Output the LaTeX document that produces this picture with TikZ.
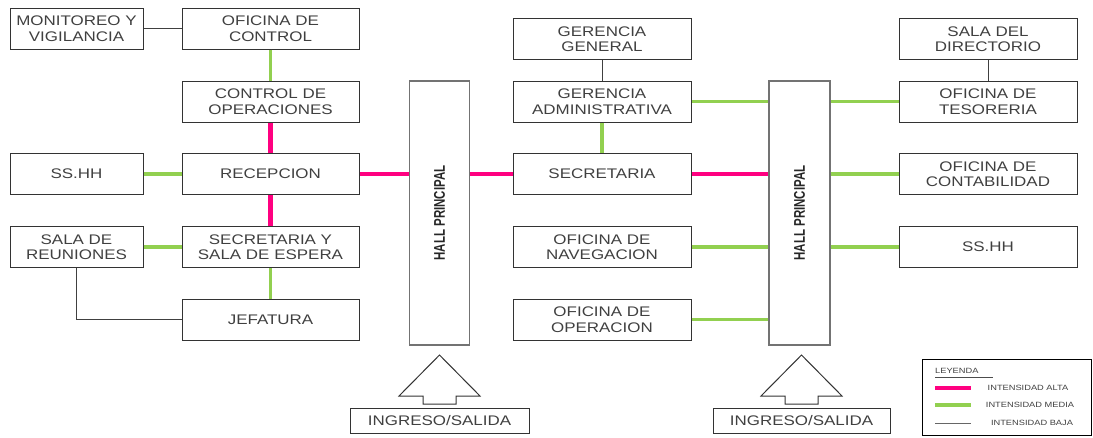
\documentclass[tikz,border=0pt]{standalone}
\usepackage{fontspec}
\setmainfont{Liberation Sans}[FakeStretch=1.22]
\newfontfamily\hallfont{Liberation Sans}[FakeStretch=0.74,BoldFont={Liberation Sans Bold}]
\definecolor{altac}{HTML}{FF0080}
\definecolor{mediac}{HTML}{92D050}
\definecolor{bajac}{HTML}{404040}
\definecolor{txt}{HTML}{404040}
\begin{document}
\begin{tikzpicture}[x=1pt,y=-1pt,
  room/.style={draw=black!80,line width=1pt,fill=white,minimum height=41pt,inner sep=0pt,align=center,
    text=txt,font=\fontsize{13.9}{15.5}\selectfont},
  narrowroom/.style={room,minimum width=133pt},
  wideroom/.style={room,minimum width=178pt},
  hall/.style={draw=black!55,line width=1.4pt,fill=white,minimum width=60pt,minimum height=264pt,inner sep=0pt},
  alta/.style={altac,line width=4.5pt},
  media/.style={mediac,line width=3.2pt},
  baja/.style={bajac,line width=0.9pt},
  gate/.style={draw=black!80,line width=1pt,fill=white},
  legtext/.style={text=txt,inner sep=0pt,font=\fontsize{7.6}{9}\selectfont}]
\useasboundingbox (0,0) rectangle (1093,437);

% left columns
\node[narrowroom] (mon) at (76.5,28.5) {MONITOREO Y\\VIGILANCIA};
\node[narrowroom] (ssa) at (76.5,174) {SS.HH};
\node[narrowroom] (reu) at (76.5,247) {SALA DE\\REUNIONES};
\node[wideroom,minimum width=177pt] (ofc) at (270.5,28.5) {OFICINA DE\\CONTROL};
\node[wideroom,minimum width=177pt] (cop) at (270.5,101.5) {CONTROL DE\\OPERACIONES};
\node[wideroom,minimum width=177pt] (rec) at (270.5,174) {RECEPCION};
\node[wideroom,minimum width=177pt] (sse) at (270.5,247) {SECRETARIA Y\\SALA DE ESPERA};
\node[wideroom,minimum width=177pt] (jef) at (270.5,319.5) {JEFATURA};

% halls
\node[hall] (h1) at (439.5,213) {};
\node[rotate=90,font=\hallfont\bfseries\fontsize{15.5}{17}\selectfont,text=black!85] at (h1.center) {HALL PRINCIPAL};
\node[hall,minimum width=61pt] (h2) at (799.5,213) {};
\node[rotate=90,font=\hallfont\bfseries\fontsize{15.5}{17}\selectfont,text=black!85] at (h2.center) {HALL PRINCIPAL};

% middle column
\node[wideroom] (gg) at (602,39) {GERENCIA\\GENERAL};
\node[wideroom] (ga) at (602,101.5) {GERENCIA\\ADMINISTRATIVA};
\node[wideroom] (sec) at (602,174) {SECRETARIA};
\node[wideroom] (nav) at (602,247) {OFICINA DE\\NAVEGACION};
\node[wideroom] (ope) at (602,319.5) {OFICINA DE\\OPERACION};

% right column
\node[wideroom] (dir) at (988,39) {SALA DEL\\DIRECTORIO};
\node[wideroom] (tes) at (988,101.5) {OFICINA DE\\TESORERIA};
\node[wideroom] (con) at (988,174) {OFICINA DE\\CONTABILIDAD};
\node[wideroom] (ssb) at (988,247) {SS.HH};

% connectors
\draw[baja] (mon) -- (ofc);
\draw[media] (ofc) -- (cop);
\draw[alta] (cop) -- (rec);
\draw[media] (ssa) -- (rec);
\draw[alta] (rec) -- (sse);
\draw[media] (reu) -- (sse);
\draw[media] (sse) -- (jef);
\draw[baja] (reu.south) |- (jef.west);
\draw[alta] (rec.east) -- (h1.west |- rec.east);
\draw[alta] (h1.east |- sec.west) -- (sec.west);
\draw[baja] (gg) -- (ga);
\draw[media] (ga) -- (sec);
\draw[media] (ga.east) -- (h2.west |- ga.east);
\draw[alta] (sec.east) -- (h2.west |- sec.east);
\draw[media] (nav.east) -- (h2.west |- nav.east);
\draw[media] (ope.east) -- (h2.west |- ope.east);
\draw[media] (h2.east |- tes.west) -- (tes.west);
\draw[media] (h2.east |- con.west) -- (con.west);
\draw[media] (h2.east |- ssb.west) -- (ssb.west);
\draw[baja] (dir) -- (tes);

% entrances
\draw[gate] (439.5,355) -- (480,396) -- (456,396) -- (456,404) -- (423,404) -- (423,396) -- (399,396) -- cycle;
\node[room,minimum width=179pt,minimum height=25pt] (in1) at (439.5,420.5) {INGRESO/SALIDA};
\draw[gate] (801.5,355) -- (842,396) -- (818,396) -- (818,404) -- (785,404) -- (785,396) -- (761,396) -- cycle;
\node[room,minimum width=177pt,minimum height=25pt] (in2) at (801.5,420.5) {INGRESO/SALIDA};

% legend
\node[draw=black,line width=1pt,minimum width=169pt,minimum height=76pt,inner sep=0pt] (leg) at (1007,397) {};
\node[legtext,anchor=west] (legt) at (935,371) {LEYENDA};
\draw[black!70,line width=0.5pt] (935,377) -- (993,377);
\coordinate (la1) at (935,388); \coordinate (la2) at (971,388);
\coordinate (lm1) at (935,405); \coordinate (lm2) at (971,405);
\coordinate (lb1) at (935,423); \coordinate (lb2) at (971,423);
\draw[altac,line width=4pt] (la1) -- (la2);
\draw[mediac,line width=3.2pt] (lm1) -- (lm2);
\draw[black!60,line width=0.9pt] (lb1) -- (lb2);
\node[legtext] at (1028,388) {INTENSIDAD ALTA};
\node[legtext] at (1030,405) {INTENSIDAD MEDIA};
\node[legtext] at (1032,423) {INTENSIDAD BAJA};
\end{tikzpicture}
\end{document}
